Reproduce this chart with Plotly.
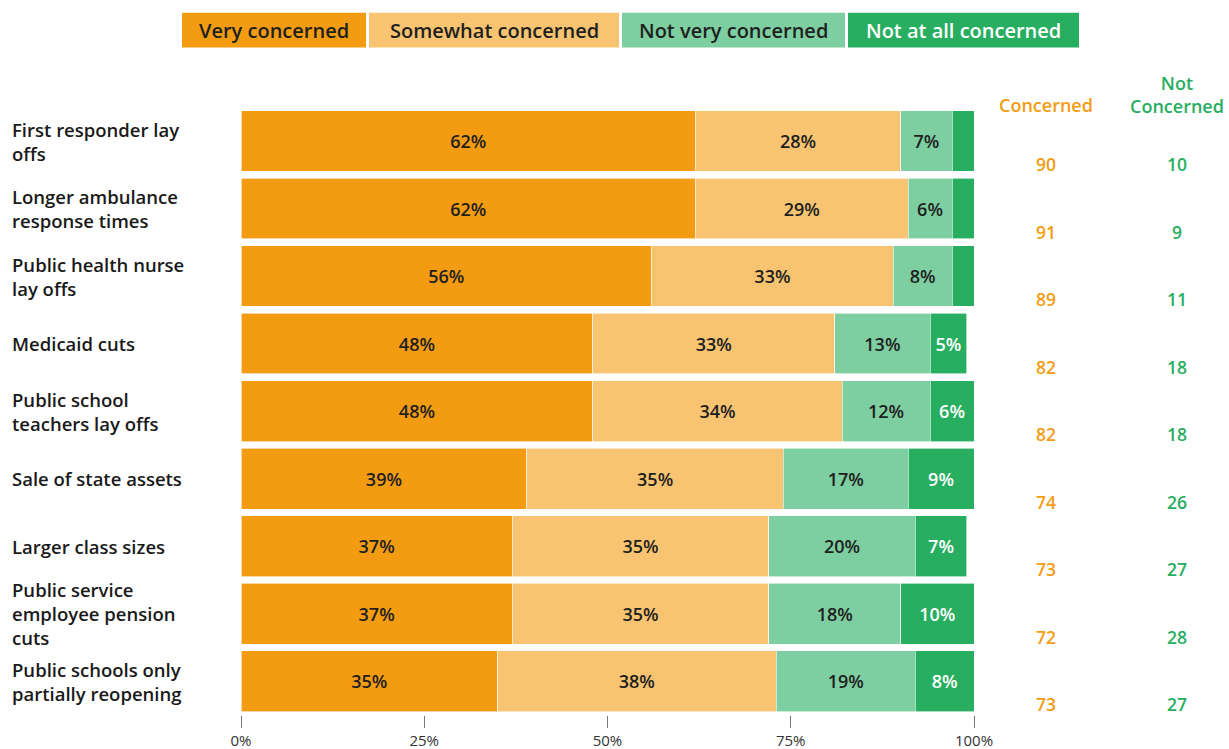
import plotly.graph_objects as go

# Survey items, top to bottom
categories = [
    "First responder lay<br>offs",
    "Longer ambulance<br>response times",
    "Public health nurse<br>lay offs",
    "Medicaid cuts",
    "Public school<br>teachers lay offs",
    "Sale of state assets",
    "Larger class sizes",
    "Public service<br>employee pension<br>cuts",
    "Public schools only<br>partially reopening",
]

very_concerned = [62, 62, 56, 48, 48, 39, 37, 37, 35]
somewhat_concerned = [28, 29, 33, 33, 34, 35, 35, 35, 38]
not_very_concerned = [7, 6, 8, 13, 12, 17, 20, 18, 19]
not_at_all_concerned = [3, 3, 3, 5, 6, 9, 7, 10, 8]

concerned_total = [90, 91, 89, 82, 82, 74, 73, 72, 73]
not_concerned_total = [10, 9, 11, 18, 18, 26, 27, 28, 27]

series_names = ["Very concerned", "Somewhat concerned", "Not very concerned", "Not at all concerned"]
x_ticks = [0, 25, 50, 75, 100]
x_tick_labels = ["0%", "25%", "50%", "75%", "100%"]

colors = ["#F39C12", "#F8C471", "#7DCEA0", "#27AE60"]
text_colors = ["#1f1f1f", "#1f1f1f", "#1f1f1f", "#ffffff"]
FONT = "Open Sans"

W, H = 1229, 749
L, R, T, B = 241, 255, 103.5, 33.5
plot_w = W - L - R
plot_h = H - T - B


def px_x(px):
    return (px - L) / plot_w


def px_y(py):
    return (H - B - py) / plot_h


fig = go.Figure()

all_series = [very_concerned, somewhat_concerned, not_very_concerned, not_at_all_concerned]
for name, vals, col, tcol in zip(series_names, all_series, colors, text_colors):
    labels = [f"{v}%" if v >= 5 else "" for v in vals]
    fig.add_trace(go.Bar(
        name=name,
        y=categories,
        x=vals,
        orientation="h",
        marker=dict(color=col, line=dict(color="#ffffff", width=0.6)),
        text=labels,
        textposition="inside",
        insidetextanchor="middle",
        textangle=0,
        constraintext="none",
        textfont=dict(family=FONT, size=18, color=tcol, weight=600),
        hoverinfo="skip",
    ))

fig.update_layout(
    barmode="stack",
    bargap=0.1,
    width=W,
    height=H,
    margin=dict(l=L, r=R, t=T, b=B, pad=0, autoexpand=False),
    paper_bgcolor="#ffffff",
    plot_bgcolor="#ffffff",
    showlegend=False,
    uniformtext=dict(minsize=10, mode="show"),
    font=dict(family=FONT, color="#1f1f1f"),
    xaxis=dict(
        range=[0, 100],
        tickvals=x_ticks,
        ticktext=x_tick_labels,
        ticks="outside",
        ticklen=12,
        tickwidth=1,
        tickcolor="#7a7a7a",
        showgrid=False,
        zeroline=False,
        showline=False,
        automargin=False,
        ticklabelstandoff=0,
        tickfont=dict(family=FONT, size=15, color="#333333"),
        fixedrange=True,
    ),
    yaxis=dict(
        categoryorder="array",
        categoryarray=categories,
        autorange="reversed",
        showticklabels=False,
        showgrid=False,
        zeroline=False,
        showline=False,
        automargin=False,
        fixedrange=True,
    ),
)

annotations = []
# Row labels on the left, left-aligned
for cat in categories:
    annotations.append(dict(
        x=px_x(10), xref="paper", xanchor="left",
        y=cat, yref="y", yanchor="middle",
        text=cat, showarrow=False, align="left",
        font=dict(family=FONT, size=18.5, color="#1a1a1a", weight=600),
    ))

# Summary columns on the right
for cat, c, n in zip(categories, concerned_total, not_concerned_total):
    annotations.append(dict(
        x=px_x(1046), xref="paper", xanchor="center",
        y=cat, yref="y", yanchor="middle", yshift=-23,
        text=str(c), showarrow=False,
        font=dict(family=FONT, size=17.5, color="#F39C12", weight=600),
    ))
    annotations.append(dict(
        x=px_x(1177), xref="paper", xanchor="center",
        y=cat, yref="y", yanchor="middle", yshift=-23,
        text=str(n), showarrow=False,
        font=dict(family=FONT, size=17.5, color="#27AE60", weight=600),
    ))

annotations.append(dict(
    x=px_x(1046), xref="paper", xanchor="center",
    y=px_y(105), yref="paper", yanchor="middle",
    text="Concerned", showarrow=False,
    font=dict(family=FONT, size=18, color="#F39C12", weight=600),
))
annotations.append(dict(
    x=px_x(1177), xref="paper", xanchor="center",
    y=px_y(94), yref="paper", yanchor="middle",
    text="Not<br>Concerned", showarrow=False,
    font=dict(family=FONT, size=18, color="#27AE60", weight=600),
))

# Legend drawn as colored boxes with labels
legend_boxes = [(182, 366), (369, 619), (622, 845), (848, 1079)]
shapes = []
for (x0, x1), name, col, tcol in zip(legend_boxes, series_names, colors, text_colors):
    shapes.append(dict(
        type="rect", xref="paper", yref="paper",
        x0=px_x(x0), x1=px_x(x1), y0=px_y(47), y1=px_y(12),
        fillcolor=col, line=dict(width=0),
    ))
    annotations.append(dict(
        x=px_x((x0 + x1) / 2), xref="paper", xanchor="center",
        y=px_y(29.5), yref="paper", yanchor="middle",
        text=name, showarrow=False,
        font=dict(family=FONT, size=20, color=tcol, weight=550),
    ))

fig.update_layout(annotations=annotations, shapes=shapes)

fig.write_html("out.html")
